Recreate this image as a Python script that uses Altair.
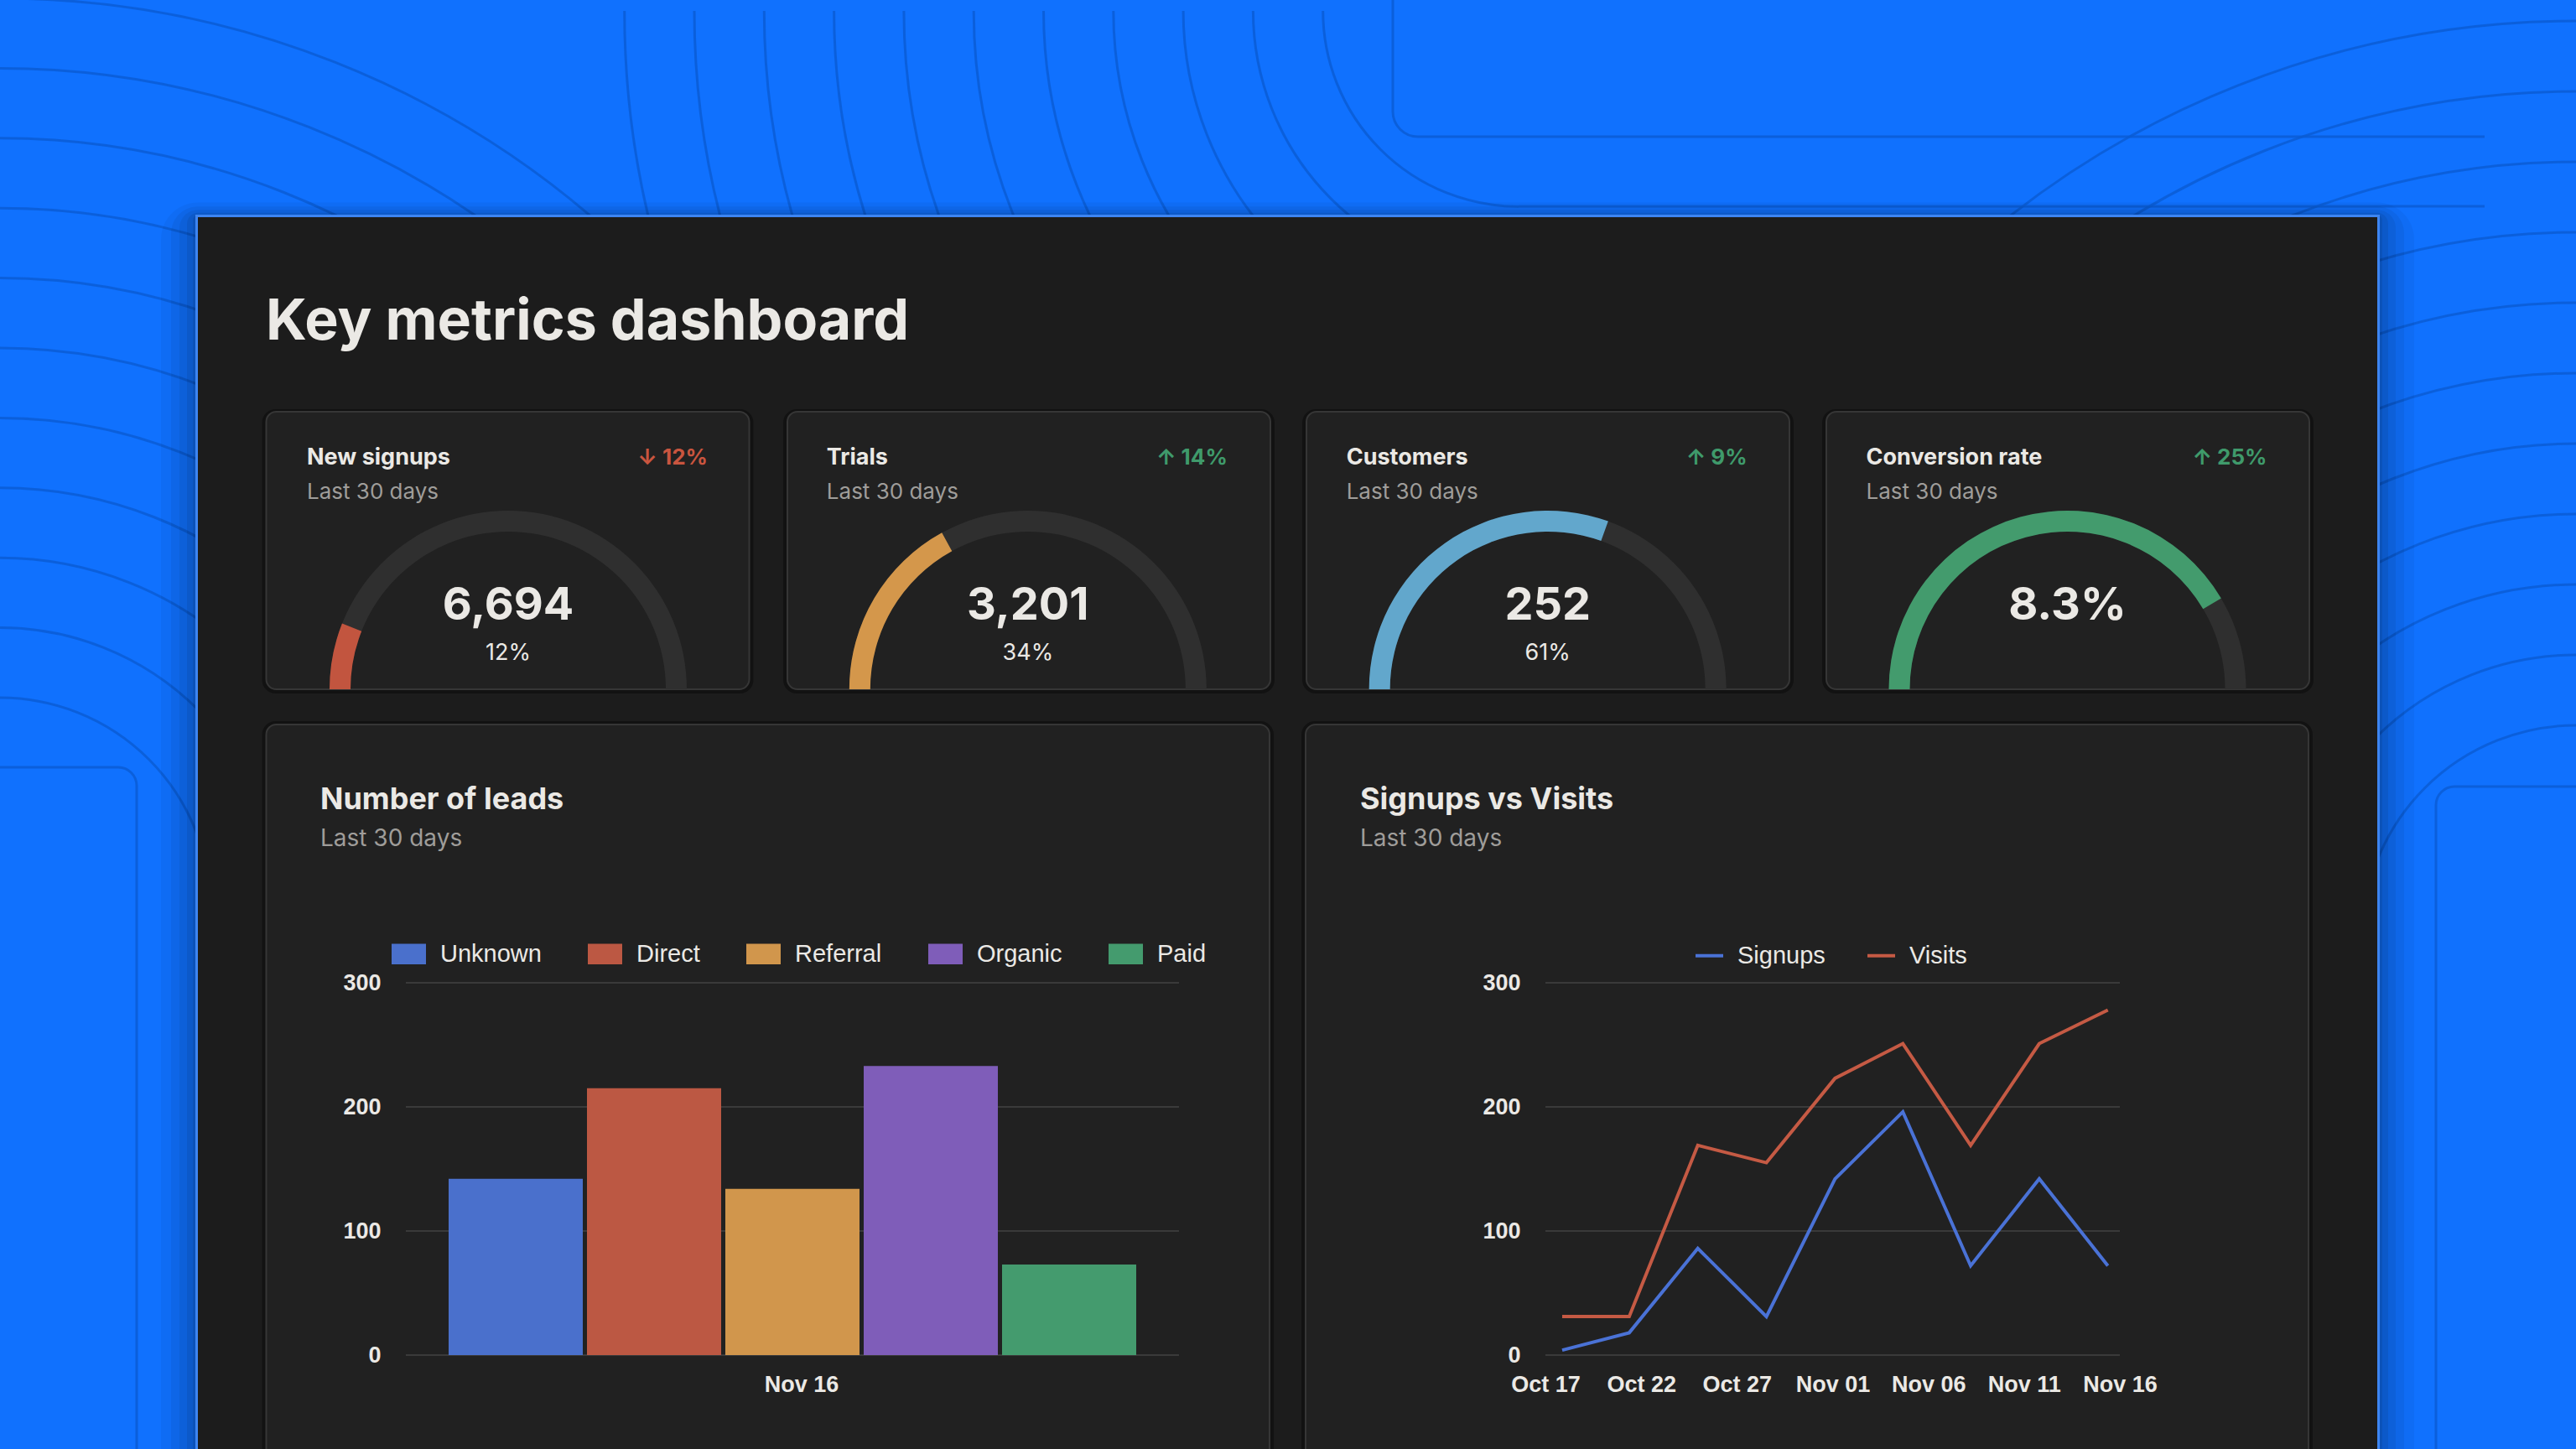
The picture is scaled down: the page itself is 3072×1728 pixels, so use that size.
import math
import altair as alt
import pandas as pd

# ---------------- data ----------------
gauge_names = ["New signups", "Trials", "Customers", "Conversion rate"]
gauge_values = ["6,694", "3,201", "252", "8.3%"]
gauge_shares = ["12%", "34%", "61%", ""]
gauge_fill = [12, 34, 61, 83]
gauge_change = ["\u2193 12%", "\u2191 14%", "\u2191 9%", "\u2191 25%"]
gauge_direction = ["down", "up", "up", "up"]
period_label = "Last 30 days"

lead_sources = ["Unknown", "Direct", "Referral", "Organic", "Paid"]
lead_counts = [142, 215, 134, 233, 73]
lead_day = "Nov 16"

trend_dates = ["2023-10-17T21:00", "2023-10-21T09:00", "2023-10-24T23:00",
               "2023-10-28T13:00", "2023-11-01T03:00", "2023-11-04T16:00",
               "2023-11-08T05:00", "2023-11-11T19:00", "2023-11-15T09:00"]
signups = [4, 18, 86, 31, 142, 196, 72, 142, 72]
visits = [31, 31, 169, 155, 223, 251, 169, 251, 278]
tick_months = [10, 10, 10, 11, 11, 11, 11]
tick_days = [17, 22, 27, 1, 6, 11, 16]
y_ticks = [0, 100, 200, 300]

# ---------------- style ----------------
BG = "#1071fe"
DECO = "#0a5bd2"
PANEL = "#1c1c1c"
CARD = "#212121"
CARD_STROKE = "#363636"
TRACK = "#2f2f2f"
TXT = "#ebe9e5"
SUB = "#9f9d9a"
GRID = "#3a3a3a"
FT = "Inter"
FC = "Liberation Sans"
gauge_colors = ["#c2553f", "#d4974b", "#62a7cc", "#439b6d"]
dir_colors = ["#3f9a6b", "#c9553f"]
bar_colors = ["#4a70cc", "#bc5843", "#d1964c", "#7f5db9", "#449b6e"]
line_colors = ["#4a72d6", "#c55a44"]

W, H = 3064, 1720
one = pd.DataFrame({"k": [0]})


def box(x0, x1, y0, y1, **kw):
    return alt.Chart(one).mark_rect(**kw).encode(
        x=alt.value(x0), x2=alt.value(x1), y=alt.value(y0), y2=alt.value(y1))


def label(txt, x, y, **kw):
    return alt.Chart(one).mark_text(text=txt, align="left", baseline="alphabetic", **kw).encode(
        x=alt.value(x), y=alt.value(y))


def deco_rule(x0, x1, y0, y1):
    return alt.Chart(one).mark_rule(color=DECO, strokeWidth=3, opacity=0.8).encode(
        x=alt.value(x0), x2=alt.value(x1), y=alt.value(y0), y2=alt.value(y1))


layers = []

# ---------------- background decoration ----------------
deco_rows = []
for k in range(11):
    deco_rows.append(dict(cx=-8, cy=1075, r=1085 - 83.4 * k, t0=0.0, t1=math.pi / 2))
for k in range(11):
    deco_rows.append(dict(cx=3064, cy=1112, r=1095 - 84 * k, t0=1.5 * math.pi, t1=2 * math.pi))
for k in range(1, 12):
    deco_rows.append(dict(cx=1803, cy=5, r=150 + 83.3 * k, t0=math.pi, t1=1.5 * math.pi))
deco_rows.append(dict(cx=1683, cy=125, r=30, t0=math.pi, t1=1.5 * math.pi))
deco = pd.DataFrame(deco_rows)
layers.append(
    alt.Chart(deco).mark_arc(filled=False, stroke=DECO, strokeWidth=3, strokeOpacity=0.8).encode(
        x=alt.X("cx:Q", scale=None, axis=None),
        y=alt.Y("cy:Q", scale=None, axis=None),
        radius=alt.Radius("r:Q", scale=None),
        radius2=alt.Radius2("r:Q"),
        theta=alt.Theta("t0:Q", scale=None),
        theta2=alt.Theta2("t1:Q"),
    )
)
layers.append(deco_rule(1803, 2955, 238, 238))
layers.append(deco_rule(1683, 2955, 155, 155))
layers.append(deco_rule(1653, 1653, -10, 125))
layers.append(box(-60, 155, 907, 2000, filled=False, stroke=DECO, strokeWidth=3, strokeOpacity=0.8, cornerRadius=22))
layers.append(box(2897, 3200, 930, 2000, filled=False, stroke=DECO, strokeWidth=3, strokeOpacity=0.8, cornerRadius=22))

# ---------------- panel ----------------
for g, op in [(44, 0.04), (32, 0.05), (22, 0.06), (13, 0.07), (6, 0.08)]:
    layers.append(box(228 - g, 2827 + g, 251 - g * 0.4, 1800, fill="black", opacity=op, cornerRadius=g))
layers.append(box(225, 2830, 248, 1800, fill="#3d85f2"))
layers.append(box(228, 2827, 251, 1800, fill=PANEL))

# cards
gauge_left = [309.5, 931, 1550, 2170]
for x0 in gauge_left:
    layers.append(box(x0 - 5, x0 + 581, 480, 819, fill="black", opacity=0.35, cornerRadius=16))
    layers.append(box(x0, x0 + 576, 483, 814, fill=CARD, stroke=CARD_STROKE, strokeWidth=2, cornerRadius=12))
for x0, x1 in [(309.5, 1506), (1549, 2745)]:
    layers.append(box(x0 - 5, x1 + 5, 852, 1800, fill="black", opacity=0.35, cornerRadius=16))
    layers.append(box(x0, x1, 856, 1800, fill=CARD, stroke=CARD_STROKE, strokeWidth=2, cornerRadius=12))

# title
layers.append(label("Key metrics dashboard", 309, 397, font=FT, fontSize=68, fontWeight=700, color=TXT))

# ---------------- gauges ----------------
gdf = pd.DataFrame({
    "name": gauge_names, "value": gauge_values, "share": gauge_shares,
    "fill": gauge_fill, "change": gauge_change, "dir": gauge_direction,
    "start": [0] * len(gauge_names),
})
gx = alt.X("name:N", scale=alt.Scale(type="point", domain=gauge_names, range=[598, 2457.5], padding=0), axis=None)
GY = 814
layers.append(alt.Chart(gdf).mark_arc(theta=1.5 * math.pi, theta2=2.5 * math.pi, radius=213, radius2=188, fill=TRACK)
              .encode(x=gx, y=alt.value(GY)))
layers.append(alt.Chart(gdf).mark_arc(radius=213, radius2=188).encode(
    x=gx, y=alt.value(GY),
    theta=alt.Theta("start:Q", scale=alt.Scale(domain=[0, 100], range=[1.5 * math.pi, 2.5 * math.pi])),
    theta2=alt.Theta2("fill:Q"),
    color=alt.Color("name:N", scale=alt.Scale(domain=gauge_names, range=gauge_colors), legend=None),
))
layers.append(alt.Chart(gdf).mark_text(align="left", baseline="alphabetic", dx=-240, font=FT, fontSize=27,
                                       fontWeight=700, color=TXT).encode(x=gx, y=alt.value(546), text="name:N"))
layers.append(alt.Chart(gdf).mark_text(text=period_label, align="left", baseline="alphabetic", dx=-240, font=FT,
                                       fontSize=26, color=SUB).encode(x=gx, y=alt.value(587)))
layers.append(alt.Chart(gdf).mark_text(align="right", baseline="alphabetic", dx=238, font=FT, fontSize=26,
                                       fontWeight=700).encode(
    x=gx, y=alt.value(546), text="change:N",
    color=alt.Color("dir:N", scale=alt.Scale(domain=["up", "down"], range=dir_colors), legend=None)))
layers.append(alt.Chart(gdf).mark_text(align="center", baseline="alphabetic", font=FT, fontSize=54,
                                       fontWeight=700, color=TXT).encode(x=gx, y=alt.value(731), text="value:N"))
layers.append(alt.Chart(gdf).mark_text(align="center", baseline="alphabetic", font=FT, fontSize=27,
                                       color=TXT).encode(x=gx, y=alt.value(779), text="share:N"))

# ---------------- bottom card titles ----------------
for x0, t in [(374, "Number of leads"), (1614, "Signups vs Visits")]:
    layers.append(label(t, x0, 957, font=FT, fontSize=36, fontWeight=700, color=TXT))
    layers.append(label(period_label, x0, 1001, font=FT, fontSize=28, color=SUB))

# ---------------- axes helpers ----------------
Y_RANGE = [1608, 1164]


def y_scale():
    return alt.Scale(domain=[0, 300], range=Y_RANGE, nice=False)


def y_axis(off):
    return alt.Axis(orient="left", offset=off, values=y_ticks, grid=False, domain=False, ticks=False,
                    tickSize=0, labelPadding=30, labelFont=FC, labelFontSize=27, labelFontWeight="bold",
                    labelColor=TXT, title=None, zindex=1)


def x_axis(**kw):
    return alt.Axis(orient="bottom", offset=-112, grid=False, domain=False, ticks=False, tickSize=0,
                    labelPadding=22, labelFont=FC, labelFontSize=27, labelFontWeight="bold",
                    labelColor=TXT, labelAngle=0, title=None, zindex=1, **kw)


# gridlines (drawn from the tick list through each chart's y scale)
tick_df = pd.DataFrame({"tick": y_ticks})
for x0, x1 in [(476, 1398), (1835, 2520)]:
    layers.append(alt.Chart(tick_df).mark_rule(color=GRID, strokeWidth=2).encode(
        y=alt.Y("tick:Q", scale=y_scale(), axis=None), x=alt.value(x0), x2=alt.value(x1)))

# ---------------- bar chart ----------------
bdf = pd.DataFrame({"day": [lead_day] * len(lead_sources), "source": lead_sources, "count": lead_counts})
layers.append(alt.Chart(bdf).mark_bar().encode(
    x=alt.X("day:N", scale=alt.Scale(range=[476, 1398], paddingInner=0, paddingOuter=0.0622),
            axis=x_axis(labelOffset=11)),
    xOffset=alt.XOffset("source:N", scale=alt.Scale(domain=lead_sources, paddingInner=0.0303, paddingOuter=0)),
    y=alt.Y("count:Q", scale=y_scale(), axis=y_axis(-476)),
    color=alt.Color("source:N", scale=alt.Scale(domain=lead_sources, range=bar_colors),
                    legend=alt.Legend(orient="none", legendX=459, legendY=1109, direction="horizontal",
                                      title=None, symbolType="M-1,-0.6H1V0.6H-1Z", symbolSize=1681,
                                      symbolStrokeWidth=0, symbolOpacity=1, labelFont=FC, labelFontSize=29,
                                      labelColor=TXT, labelOffset=17, columnPadding=55, padding=0, zindex=1)),
))

# ---------------- line chart ----------------
ldf = pd.DataFrame({
    "date": trend_dates + trend_dates,
    "series": ["Signups"] * len(trend_dates) + ["Visits"] * len(trend_dates),
    "value": signups + visits,
})
tick_values = [alt.DateTime(year=2023, month=m, date=d) for m, d in zip(tick_months, tick_days)]
layers.append(alt.Chart(ldf).mark_line(strokeWidth=4).encode(
    x=alt.X("date:T", scale=alt.Scale(domain=[tick_values[0], tick_values[-1]], range=[1835, 2520]),
            axis=x_axis(values=tick_values, format="%b %d", labelFlush=False, labelOverlap=False)),
    y=alt.Y("value:Q", scale=y_scale(), axis=y_axis(-1835)),
    color=alt.Color("series:N", scale=alt.Scale(domain=["Signups", "Visits"], range=line_colors),
                    legend=alt.Legend(orient="none", legendX=2012, legendY=1113, direction="horizontal",
                                      title=None, symbolType="stroke", symbolSize=1089,
                                      symbolStrokeWidth=4, labelFont=FC, labelFontSize=29,
                                      labelColor=TXT, labelOffset=15, columnPadding=42, padding=0, zindex=1)),
))

chart = (
    alt.layer(*layers)
    .properties(width=W, height=H, autosize=alt.AutoSizeParams(type="none"),
                padding={"left": 8, "top": 8, "right": 0, "bottom": 0}, background=BG)
    .resolve_scale(x="independent", y="independent", color="independent")
    .resolve_legend(color="independent")
    .configure_view(strokeWidth=0)
)

chart.save("out.html", embed_options={
    "renderer": "svg", "actions": False,
    "defaultStyle": "body{margin:0;overflow:hidden;background:#1071fe} #vis{line-height:0}",
})
